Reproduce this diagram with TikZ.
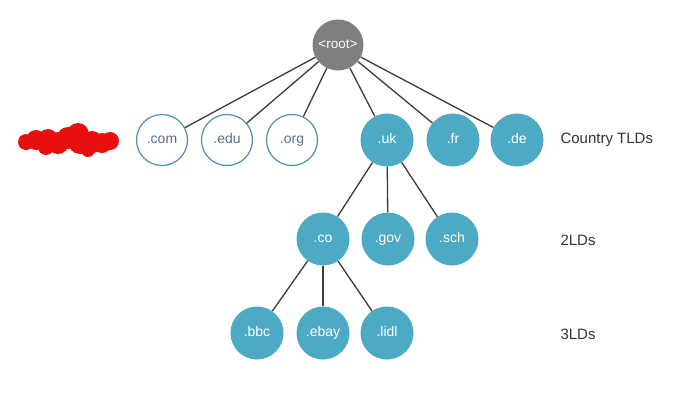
\documentclass[tikz,border=0pt]{standalone}
\usepackage{fontspec}
\setmainfont{Liberation Sans}
\definecolor{teal1}{HTML}{4DAAC4}
\definecolor{ring}{HTML}{4F8FB0}
\definecolor{ringtext}{HTML}{5A6E8A}
\definecolor{rootgray}{HTML}{7F7F7F}
\definecolor{edgec}{HTML}{3A3A3A}
\definecolor{scrib}{HTML}{E8100E}
\tikzset{
  base/.style={circle, inner sep=0pt, text height=10pt, text depth=3.5pt, font=\fontsize{14}{16}\selectfont},
  filled/.style={base, fill=teal1, minimum size=53pt, text=white},
  hollow/.style={base, draw=ring, line width=1.2pt, fill=white, minimum size=51pt, text=ringtext},
  rootnode/.style={base, fill=rootgray, minimum size=51pt, text=white, font=\fontsize{13.5}{16}\selectfont},
  levellabel/.style={anchor=west, text=black!80, font=\fontsize{15}{17}\selectfont},
  edge/.style={draw=edgec, line width=1.3pt}
}
\begin{document}
\begin{tikzpicture}[x=1pt,y=-1pt]
\useasboundingbox (0,0) rectangle (685,400);
% nodes
\node[rootnode] (root) at (338,45) {<root>};
\node[hollow] (com) at (162,140) {.com};
\node[hollow] (edu) at (227,140) {.edu};
\node[hollow] (org) at (292,140) {.org};
\node[filled] (uk) at (387,140) {.uk};
\node[filled] (fr) at (453,140) {.fr};
\node[filled] (de) at (517,140) {.de};
\node[filled] (co) at (323,239) {.co};
\node[filled] (gov) at (388,239) {.gov};
\node[filled] (sch) at (452,239) {.sch};
\node[filled] (bbc) at (257,333) {.bbc};
\node[filled] (ebay) at (323,333) {.ebay};
\node[filled] (lidl) at (387,333) {.lidl};
% labels
\node[levellabel] (l1) at (557,140) {Country TLDs};
\node[levellabel] (l2) at (557,240) {2LDs};
\node[levellabel] (l3) at (557,334) {3LDs};
% edges
\foreach \c in {com,edu,org,uk,fr,de} {\draw[edge] (root) -- (\c);}
\foreach \c in {co,gov,sch} {\draw[edge] (uk) -- (\c);}
\foreach \c in {bbc,ebay,lidl} {\draw[edge] (co) -- (\c);}
% red scribble
\fill[scrib] (26,142) circle (8) (36,140) circle (10) (48,139) circle (10) (58,143) circle (11)
  (68,138) circle (11) (78,134) circle (11) (80,142) circle (12) (92,142) circle (11)
  (102,143) circle (10) (110,141) circle (9) (46,147) circle (8) (88,150) circle (7);
\end{tikzpicture}
\end{document}
